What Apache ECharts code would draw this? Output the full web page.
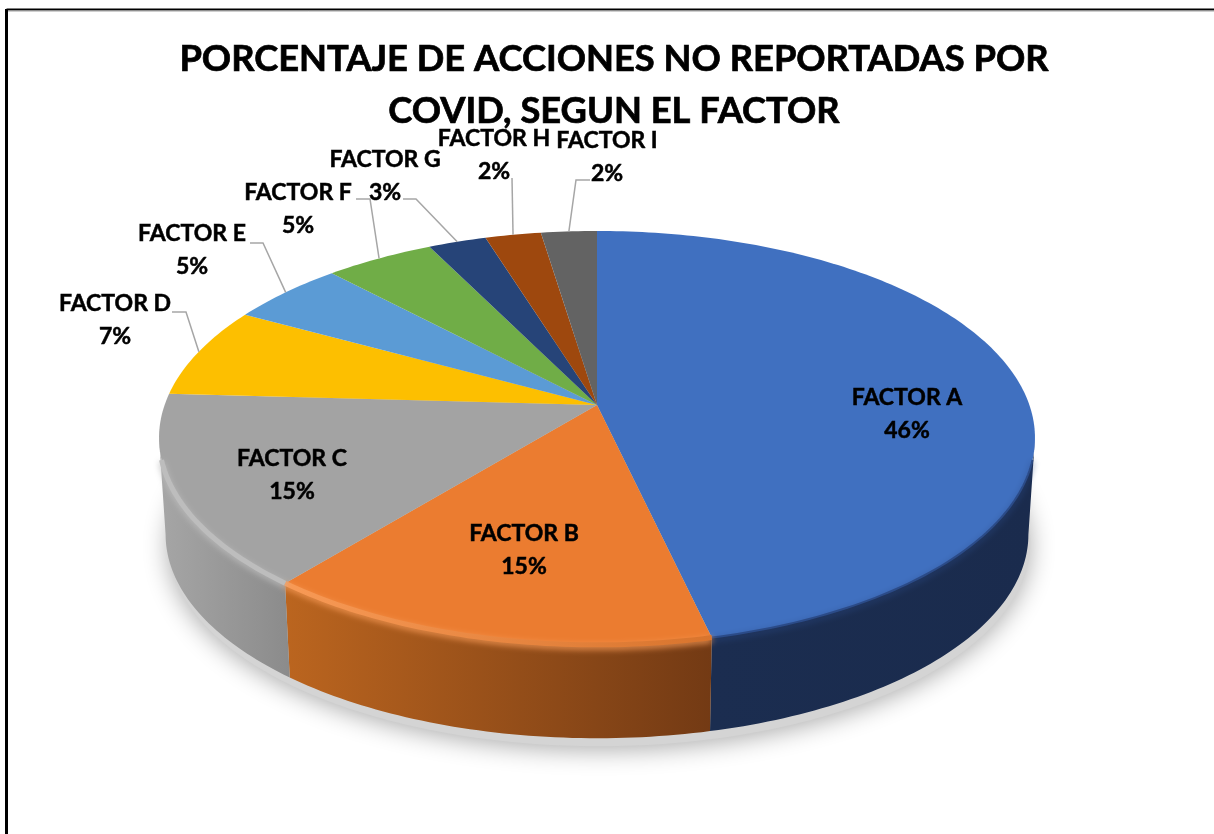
<!DOCTYPE html>
<html>
<head>
<meta charset="utf-8">
<title>Porcentaje de acciones no reportadas</title>
<script src="https://cdn.jsdelivr.net/npm/echarts@6/dist/echarts.min.js"></script>
<style>
  html, body { margin: 0; padding: 0; background: #fff; overflow: hidden; }
  #chart { width: 1214px; height: 834px; }
</style>
</head>
<body>
<div id="chart"></div>
<script>
var categories = ['FACTOR A', 'FACTOR B', 'FACTOR C', 'FACTOR D', 'FACTOR E', 'FACTOR F', 'FACTOR G', 'FACTOR H', 'FACTOR I'];
var values = [46.4, 14.5, 15.0, 7.1, 5.0, 4.7, 2.5, 2.4, 2.4];
var titleText = 'PORCENTAJE DE ACCIONES NO REPORTADAS POR\nCOVID, SEGUN EL FACTOR';

var topColors = ['#4070c0', '#eb7c30', '#a3a3a3', '#fdbf00', '#5b9bd5', '#70ad47', '#264478', '#9e480e', '#636363'];
// wall gradient, screen left to screen right
var wallLeft = ['#1b2d50', '#bb651f', '#a6a6a6'];
var wallRight = ['#1a2b4d', '#733a14', '#8b8b8b'];
// bright line on the front edge
var rimLeft = ['#2b4b88', '#f89a56', '#bdbdbd'];
var rimRight = ['#2b4b88', '#d8742d', '#bdbdbd'];

// hand placed label centres and leader lines, same order as categories
var labelCenter = [[907, 414], [524, 550], [292, 475], [115, 320], [192, 250], [298, 209], [385, 176], [494, 155], [607, 157]];
var leaders = [null, null, null,
  [[172, 312], [186, 312]], [[250, 243], [263, 243]], [[356, 199], [370, 199]],
  [[403, 199], [416, 199]], [[512, 178]], [[590, 180], [576, 180]]];

// perspective of the disc
var X0 = 597, Y0 = 405, A = 432.4, B = 201.7, K = 0.159;
var DEPTH = 97, BOTTOM_SCALE = 0.985;
// the wall shows only between the two side extremes of the ellipse
var FRONT_FROM = 99.15, FRONT_TO = 260.85;

function rimPoint(deg, bottom) {
  var t = deg * Math.PI / 180;
  var u = Math.sin(t), v = Math.cos(t), w = 1 + K * v;
  if (bottom) {
    return [X0 + BOTTOM_SCALE * A * u / w, Y0 + DEPTH - BOTTOM_SCALE * B * v / w];
  }
  return [X0 + A * u / w, Y0 - B * v / w];
}

function arcPoints(from, to, bottom) {
  var pts = [], n = Math.max(2, Math.ceil(Math.abs(to - from)));
  for (var i = 0; i <= n; i++) {
    pts.push(rimPoint(from + (to - from) * i / n, bottom));
  }
  return pts;
}

var total = values.reduce(function (a, b) { return a + b; }, 0);
var running = 0;
var sliceData = values.map(function (v, i) {
  var row = [i, v, running];
  running += v;
  return row;
});

function renderSlice(params, api) {
  var i = api.value(0);
  var start = api.value(2) / total * 360;
  var end = (api.value(2) + api.value(1)) / total * 360;
  var children = [];
  var a = Math.max(start, FRONT_FROM), b = Math.min(end, FRONT_TO);

  if (a < b) {
    children.push({
      type: 'polygon', z2: 1,
      shape: { points: arcPoints(a, b, false).concat(arcPoints(b, a, true)) },
      style: {
        fill: {
          type: 'linear', x: 0, y: 0, x2: 1, y2: 0,
          colorStops: [{ offset: 0, color: wallLeft[i] }, { offset: 1, color: wallRight[i] }]
        }
      }
    });
    // stop short of the side extremes so the line does not poke past the outline
    children.push({
      type: 'polyline', z2: 3, silent: true,
      shape: { points: arcPoints(Math.max(a, FRONT_FROM + 6), Math.min(b, FRONT_TO - 6), false) },
      style: {
        fill: null,
        stroke: {
          type: 'linear', x: 0, y: 0, x2: 1, y2: 0,
          colorStops: [{ offset: 0, color: rimLeft[i] }, { offset: 1, color: rimRight[i] }]
        },
        lineWidth: i === 0 ? 2 : 5,
        shadowBlur: 6,
        shadowColor: rimLeft[i],
        shadowOffsetY: 2
      }
    });
  }

  children.push({
    type: 'polygon', z2: 2,
    shape: { points: [[X0, Y0]].concat(arcPoints(start, end, false)) },
    style: { fill: topColors[i] }
  });

  if (leaders[i]) {
    var mid = (start + end) / 2;
    children.push({
      type: 'polyline', z2: 4, silent: true,
      shape: { points: leaders[i].concat([rimPoint(mid, false)]) },
      style: { fill: null, stroke: '#a6a6a6', lineWidth: 1.5 }
    });
  }

  children.push({
    type: 'text', z2: 10,
    style: {
      text: categories[i] + '\n' + Math.round(api.value(1)) + '%',
      x: labelCenter[i][0], y: labelCenter[i][1],
      align: 'center', verticalAlign: 'middle',
      font: 'bold 23px Lato', lineHeight: 33, fill: '#000',
      stroke: '#000', lineWidth: 0.5
    }
  });

  return { type: 'group', children: children };
}

function renderShadow() {
  return {
    type: 'polygon', z2: 0, silent: true,
    shape: { points: arcPoints(0, 360, true).map(function (p) { return [p[0] + 2, p[1] + 8]; }) },
    style: { fill: '#d4d4d4', shadowBlur: 24, shadowColor: 'rgba(0,0,0,0.32)', shadowOffsetY: 4 }
  };
}

var chart = echarts.init(document.getElementById('chart'));
chart.setOption({
  backgroundColor: '#fff',
  animation: false,
  title: {
    text: titleText,
    left: 609, top: 28,
    textAlign: 'center',
    textStyle: {
      fontFamily: 'Lato', fontWeight: 'bold', fontSize: 36.3, lineHeight: 52, color: '#000',
      textBorderColor: '#000', textBorderWidth: 0.7
    }
  },
  graphic: [
    { type: 'line', silent: true, shape: { x1: 6.5, y1: 9.5, x2: 1214, y2: 9.5 }, style: { stroke: '#000', lineWidth: 2 } },
    { type: 'line', silent: true, shape: { x1: 6.5, y1: 11, x2: 1214, y2: 11 }, style: { stroke: '#a0a0a0', lineWidth: 1 } },
    { type: 'line', silent: true, shape: { x1: 6.5, y1: 9, x2: 6.5, y2: 834 }, style: { stroke: '#000', lineWidth: 3 } }
  ],
  series: [
    { type: 'custom', coordinateSystem: 'none', data: [[0]], renderItem: renderShadow, silent: true },
    { type: 'custom', coordinateSystem: 'none', data: sliceData, renderItem: renderSlice, silent: true }
  ]
});
</script>
</body>
</html>
